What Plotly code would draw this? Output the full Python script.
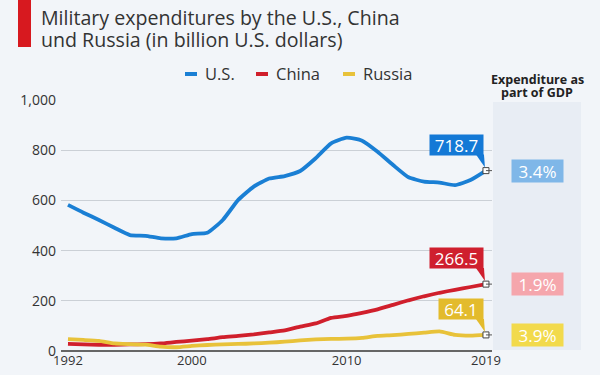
import plotly.graph_objects as go

years = list(range(1992, 2020))
us = [582, 551, 522, 491, 462, 459, 449, 449, 466, 471, 522, 602, 655, 687, 697,
      717, 768, 827, 850, 838, 794, 741, 692, 675, 671, 661, 681, 718.7]
china = [28, 26, 25, 25, 26, 27, 30, 36, 41, 47, 55, 60, 66, 74, 82,
         97, 110, 132, 140, 152, 166, 184, 202, 218, 232, 244, 255, 266.5]
russia = [47, 44, 40, 30, 27, 25, 17, 15, 20, 24, 26, 28, 30, 33, 37,
          42, 46, 48, 49, 52, 60, 63, 68, 73, 78, 64, 61, 64.1]
series_names = ["U.S.", "China", "Russia"]
gdp_share = ["3.4%", "1.9%", "3.9%"]
x_ticks = [1992, 2000, 2010, 2019]
y_ticks = [0, 200, 400, 600, 800, 1000]
title_lines = ["Military expenditures by the U.S., China", "und Russia (in billion U.S. dollars)"]
gdp_header = ["Expenditure as", "part of GDP"]

line_colors = ["#1a7fd4", "#d01f2c", "#e8c23a"]
box_colors = ["#1479d6", "#cf1f2e", "#e3bb2c"]
gdp_colors = ["#7fb7e8", "#f5a6ac", "#f2da4c"]

W, H = 600, 375
L, R, T, B = 61, 492, 100, 351
def px(p):
    return (p - L) / (R - L)
def py(p):
    return (B - p) / (B - T)

BG = "#f2f5f9"
TXT = "#333333"
FONT = "Open Sans"

fig = go.Figure()
data = [us, china, russia]
for name, vals, col in zip(series_names, data, line_colors):
    fig.add_trace(go.Scatter(x=years, y=vals, mode="lines", name=name,
                             line=dict(color=col, width=3.8, shape="spline", smoothing=0.5),
                             showlegend=False, hoverinfo="skip"))

shapes = []
annotations = []
# title bar
shapes.append(dict(type="rect", xref="paper", yref="paper", x0=px(18), x1=px(31),
                   y0=py(47), y1=py(0), fillcolor="#d7191f", line_width=0, layer="above"))
# GDP panel
shapes.append(dict(type="rect", xref="paper", yref="paper", x0=px(493), x1=px(581),
                   y0=py(350), y1=py(102), fillcolor="#e8edf4", line_width=0, layer="below"))

for i, line in enumerate(title_lines):
    annotations.append(dict(xref="paper", yref="paper", x=px(39), y=py(2 + 22 * i),
                            xanchor="left", yanchor="top", text=line, align="left",
                            showarrow=False, font=dict(family=FONT, size=19.6, color=TXT)))
for i, line in enumerate(gdp_header):
    annotations.append(dict(xref="paper", yref="paper", x=px(537), y=py(69 + 13 * i),
                            xanchor="center", yanchor="top", text=f"<b>{line}</b>",
                            showarrow=False, font=dict(family=FONT, size=12.5, color="#222222")))

# legend (key swatches + labels)
legend_marker_x = [185, 256, 343]
for name, col, mx in zip(series_names, line_colors, legend_marker_x):
    shapes.append(dict(type="rect", xref="paper", yref="paper", x0=px(mx), x1=px(mx + 12),
                       y0=py(76), y1=py(72), fillcolor=col, line_width=0))
    annotations.append(dict(xref="paper", yref="paper", x=px(mx + 18), y=py(73.5),
                            xanchor="left", yanchor="middle", text=name, showarrow=False,
                            font=dict(family=FONT, size=16.5, color=TXT)))

def text_w(s, size=17):
    return sum((0.572 if c.isdigit() else 0.27) * size for c in s)

last_x = years[-1]
for vals, bc, gc, g in zip(data, box_colors, gdp_colors, gdp_share):
    v = vals[-1]
    lbl = f"{v:.1f}"
    annotations.append(dict(x=last_x, y=v, xanchor="right", yanchor="bottom", xshift=-2, yshift=15,
                            text=lbl, showarrow=False, bgcolor=bc, borderpad=2,
                            width=round(text_w(lbl)) + 6, height=16,
                            font=dict(family=FONT, size=17, color="white")))
    shapes.append(dict(type="path", xref="x", yref="y", xsizemode="pixel", ysizemode="pixel",
                       xanchor=last_x, yanchor=v,
                       path="M -10 16 L -2 16 L -1 3 Z", fillcolor=bc, line_width=0))
    shapes.append(dict(type="line", xref="x", yref="y", xsizemode="pixel", xanchor=last_x,
                       x0=0, x1=25, y0=v, y1=v, line=dict(color="#555555", width=1)))
    annotations.append(dict(x=last_x, y=v, xanchor="left", yanchor="middle", xshift=25,
                            text=g, showarrow=False, bgcolor=gc, width=47, height=18, borderpad=2,
                            font=dict(family=FONT, size=17, color="white")))

fig.add_trace(go.Scatter(x=[last_x] * 3, y=[d[-1] for d in data], mode="markers",
                         marker=dict(symbol="square", size=6, color="white",
                                     line=dict(color="#444444", width=1)),
                         showlegend=False, hoverinfo="skip"))

fig.update_layout(
    width=W, height=H, margin=dict(l=L, r=W - R, t=T, b=H - B, autoexpand=False),
    paper_bgcolor=BG, plot_bgcolor=BG,
    shapes=shapes, annotations=annotations,
    showlegend=False,
    xaxis=dict(range=[1991.55, 2019.39], tickvals=x_ticks, showgrid=False, zeroline=False,
               showline=False, ticks="", automargin=False,
               tickfont=dict(family=FONT, size=13, color=TXT)),
    yaxis=dict(range=[0, 1000], tickvals=y_ticks, tickformat=",", showgrid=True,
               gridcolor="#cbd0d6", gridwidth=1, zeroline=True, zerolinecolor="#666666",
               zerolinewidth=2, ticks="", ticklabelstandoff=4, automargin=False,
               tickfont=dict(family=FONT, size=14, color=TXT)),
)
fig.write_html("out.html", config={"displayModeBar": False},
               post_script="document.body.style.margin='0';document.body.style.overflow='hidden';")
